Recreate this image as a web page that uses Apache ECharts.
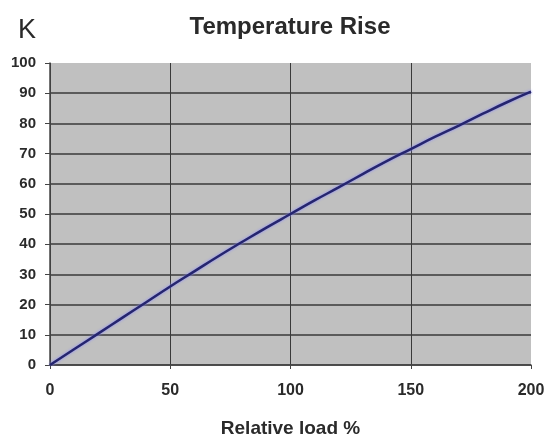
<!DOCTYPE html>
<html><head><meta charset="utf-8">
<script src="https://cdn.jsdelivr.net/npm/echarts@6/dist/echarts.min.js"></script>
<style>html,body{margin:0;padding:0;background:#fff}#c{width:547px;height:439px}</style>
</head><body><div id="c"></div>
<script>
const loads = [0,10,20,30,40,50,60,70,80,90,100,110,120,130,140,150,160,170,180,190,200];
const tempRise = [0,5.2,10.4,15.6,20.8,26,31,36,40.8,45.5,50,54.5,58.8,63.2,67.5,71.5,75.5,79.3,83.2,87,90.5];
const titleText = 'Temperature Rise';
const yUnit = 'K';
const xName = 'Relative load %';

const chart = echarts.init(document.getElementById('c'), null, {renderer:'canvas'});
chart.setOption({
  backgroundColor:'#fff',
  animation:false,
  title:[
    {text:titleText, left:285, top:10, textAlign:'center',
     textStyle:{fontFamily:'Liberation Sans, Arial', fontWeight:'bold', fontSize:24, color:'#2a2a2a'}},
    {text:yUnit, left:13, top:12,
     textStyle:{fontFamily:'Liberation Sans, Arial', fontWeight:'normal', fontSize:27, color:'#2a2a2a'}}
  ],
  grid:{left:50, right:16, top:63, bottom:74, show:true, backgroundColor:'#c0c0c0', borderWidth:0,
        containLabel:false, outerBoundsMode:'none'},
  xAxis:{type:'value', min:0, max:200, interval:50,
    name:xName, nameLocation:'middle', nameGap:54,
    nameTextStyle:{fontFamily:'Liberation Sans, Arial', fontWeight:'bold', fontSize:19, color:'#2a2a2a'},
    axisLine:{show:true, onZero:false, lineStyle:{color:'#444', width:1.5}},
    axisTick:{show:true, length:4, lineStyle:{color:'#444'}},
    axisLabel:{margin:18, fontFamily:'Liberation Sans, Arial', fontWeight:'bold', fontSize:16, color:'#2a2a2a'},
    splitLine:{show:true, showMaxLine:false, lineStyle:{color:'#3a3a3a', width:1}}
  },
  yAxis:{type:'value', min:0, max:100, interval:10,
    axisLine:{show:true, lineStyle:{color:'#444', width:1.5}},
    axisTick:{show:true, length:5, lineStyle:{color:'#444'}},
    axisLabel:{margin:14, fontFamily:'Liberation Sans, Arial', fontWeight:'bold', fontSize:15, color:'#2a2a2a'},
    splitLine:{show:true, showMaxLine:false, lineStyle:{color:'#3a3a3a', width:1.5}}
  },
  series:[{type:'line', data:loads.map((x,i)=>[x,tempRise[i]]), showSymbol:false, smooth:true,
    lineStyle:{color:'#25256e', width:2.5, shadowColor:'#8a8aff', shadowBlur:3}}]
});
</script></body></html>
